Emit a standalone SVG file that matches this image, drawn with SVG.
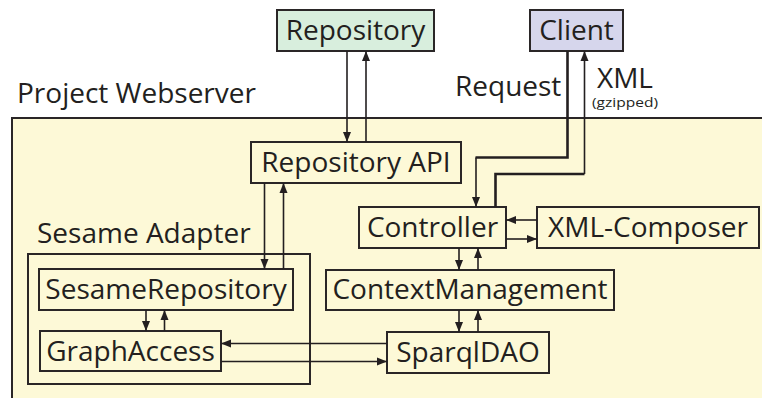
<svg xmlns="http://www.w3.org/2000/svg" width="762" height="398" viewBox="0 0 762 398">
  <style>
    .box { fill: none; stroke: #2a2627; stroke-width: 2; }
    .lbl { font-family: "Open Sans", "Noto Sans", sans-serif; font-size: 28px; fill: #231f20; }
    .mid { text-anchor: middle; }
    .ln { fill: none; stroke: #231f20; stroke-width: 1.6; }
    .thick { fill: none; stroke: #231f20; stroke-width: 2.6; }
  </style>
  <defs>
    <marker id="arr" markerUnits="userSpaceOnUse" markerWidth="10" markerHeight="10" viewBox="0 0 10 10" refX="10" refY="5" orient="auto">
      <path d="M0,1 L10,5 L0,9 Z" fill="#231f20"/>
    </marker>
  </defs>

  <!-- server area -->
  <g id="webserver">
    <rect x="12" y="118" width="770" height="300" fill="#fdf9d7" stroke="#2a2627" stroke-width="2"/>
    <text class="lbl" x="17" y="103">Project Webserver</text>
  </g>

  <g id="sesame-adapter">
    <rect class="box" x="28" y="254" width="282" height="130"/>
    <text class="lbl" x="37" y="243">Sesame Adapter</text>
  </g>

  <!-- external nodes -->
  <g id="repository">
    <rect x="277" y="10" width="157" height="41" fill="#d8eedd" stroke="#2a2627" stroke-width="2"/>
    <text class="lbl mid" x="355.5" y="40">Repository</text>
  </g>
  <g id="client">
    <rect x="530" y="10" width="93" height="41" fill="#d6d6ec" stroke="#2a2627" stroke-width="2"/>
    <text class="lbl mid" x="576.5" y="40">Client</text>
  </g>

  <!-- internal nodes -->
  <g id="repository-api">
    <rect class="box" x="251" y="142" width="210" height="41"/>
    <text class="lbl mid" x="356" y="172">Repository API</text>
  </g>
  <g id="controller">
    <rect class="box" x="359" y="207" width="147" height="41"/>
    <text class="lbl mid" x="432.5" y="237">Controller</text>
  </g>
  <g id="xml-composer">
    <rect class="box" x="537" y="207" width="222" height="41"/>
    <text class="lbl mid" x="648" y="237">XML-Composer</text>
  </g>
  <g id="context-management">
    <rect class="box" x="326" y="270" width="288" height="40"/>
    <text class="lbl mid" x="470" y="299">ContextManagement</text>
  </g>
  <g id="sparql-dao">
    <rect class="box" x="387" y="332" width="162" height="41"/>
    <text class="lbl mid" x="468" y="362">SparqlDAO</text>
  </g>
  <g id="sesame-repository">
    <rect class="box" x="39" y="269" width="254" height="41"/>
    <text class="lbl mid" x="166" y="299">SesameRepository</text>
  </g>
  <g id="graph-access">
    <rect class="box" x="40" y="331" width="181" height="40"/>
    <text class="lbl mid" x="130.5" y="361">GraphAccess</text>
  </g>

  <!-- connectors -->
  <g id="connectors">
    <path class="ln" d="M347 51 V142" marker-end="url(#arr)"/>
    <path class="ln" d="M366 142 V51" marker-end="url(#arr)"/>
    <path class="ln" d="M264.5 183 V269" marker-end="url(#arr)"/>
    <path class="ln" d="M283.5 269 V183" marker-end="url(#arr)"/>

    <path class="thick" d="M567.5 51 V157.5 H475.5"/>
    <path class="ln" d="M476 157.5 V207" marker-end="url(#arr)"/>
    <path class="thick" d="M495.5 207 V174 H584.5"/>
    <path class="ln" d="M584.5 174 V51" marker-end="url(#arr)"/>

    <path class="ln" d="M537 220 H506" marker-end="url(#arr)"/>
    <path class="ln" d="M506 239 H537" marker-end="url(#arr)"/>

    <path class="ln" d="M459 248 V270" marker-end="url(#arr)"/>
    <path class="ln" d="M478 270 V248" marker-end="url(#arr)"/>
    <path class="ln" d="M459 310 V332" marker-end="url(#arr)"/>
    <path class="ln" d="M478 332 V310" marker-end="url(#arr)"/>

    <path class="ln" d="M146 310 V331" marker-end="url(#arr)"/>
    <path class="ln" d="M164.5 331 V310" marker-end="url(#arr)"/>

    <path class="ln" d="M387 343.5 H221" marker-end="url(#arr)"/>
    <path class="ln" d="M221 361.5 H387" marker-end="url(#arr)"/>
  </g>

  <!-- transport labels -->
  <g id="labels">
    <text class="lbl" x="455" y="96" font-size="27">Request</text>
    <text class="lbl" x="597" y="88" font-size="27">XML</text>
    <text x="592" y="107" font-family="Open Sans, Noto Sans, sans-serif" font-size="13" fill="#231f20" textLength="66" lengthAdjust="spacingAndGlyphs">(gzipped)</text>
  </g>
</svg>
